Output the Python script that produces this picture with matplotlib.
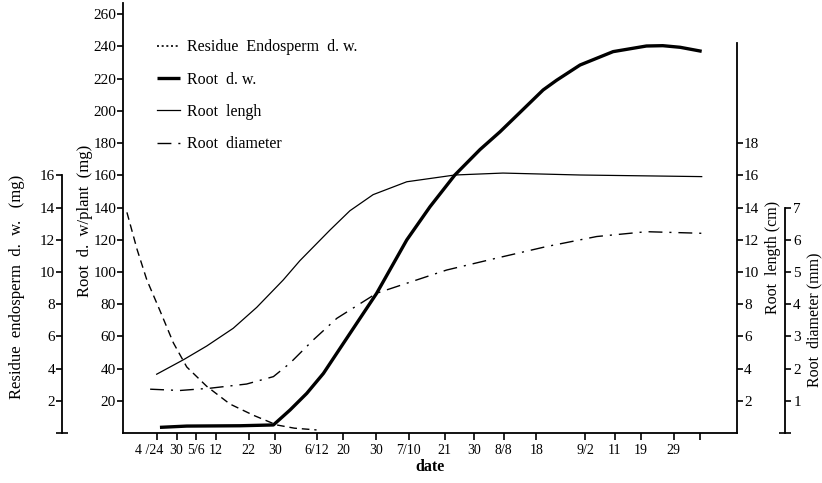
import numpy as np
import matplotlib
matplotlib.use('Agg')
import matplotlib.pyplot as plt
from matplotlib.lines import Line2D
from matplotlib.transforms import ScaledTranslation

plt.rcParams['font.family'] = ['Liberation Serif', 'DejaVu Serif']

# days after 4/24
tick_days = [0, 6, 12, 18, 28, 36, 49, 57, 67, 77, 88, 97, 106, 116, 131, 140, 148, 158, 166]
tick_labels = ['4 /24', '30', '5/6', '12', '22', '30', '6/12', '20', '30', '7/10',
               '21', '30', '8/8', '18', '9/2', '11', '19', '29', '']

# residue endosperm dry weight (mg)
endo_day = [-9.2, -6.1, -3.1, 0.9, 5.0, 9.1, 15.2, 22.3, 29.5, 36.6, 42.0, 48.8]
endo_mg = [13.7, 11.4, 9.5, 7.6, 5.6, 4.1, 2.9, 1.8, 1.1, 0.5, 0.3, 0.19]

# root dry weight per plant (mg)
rdw_day = [0.9, 9.1, 25.4, 35.6, 40.7, 45.8, 50.9, 56.0, 67.2, 76.4, 83.5, 91.1,
           98.8, 104.9, 111.0, 118.1, 122.2, 129.4, 139.5, 149.7, 154.7, 160.0, 166.6]
rdw_mg = [3.5, 4.3, 4.5, 5.0, 14.3, 24.6, 37.0, 52.6, 86.8, 119.9, 140.5, 160.2,
          176.0, 187.0, 199.0, 213.0, 219.0, 228.5, 236.8, 240.3, 240.5, 239.5, 237.0]

# root length (cm)
rl_day = [-0.1, 8.1, 15.2, 23.3, 30.5, 38.6, 43.7, 52.9, 59.0, 66.1, 76.4, 91.1, 105.8, 129.4, 166.6]
rl_cm = [3.65, 4.55, 5.4, 6.5, 7.8, 9.5, 10.7, 12.6, 13.8, 14.8, 15.6, 16.02, 16.14, 16.02, 15.92]

# root diameter (mm)
rd_day = [-2.1, 7.0, 16.2, 27.4, 35.6, 40.7, 47.8, 55.0, 67.2, 88.6, 103.9, 119.2, 134.5, 149.7, 166.6]
rd_mm = [1.36, 1.32, 1.39, 1.52, 1.75, 2.17, 2.89, 3.56, 4.34, 5.06, 5.43, 5.79, 6.10, 6.25, 6.20]

W, H = 822, 483
fig = plt.figure(figsize=(W / 100, H / 100), dpi=100)
ax = fig.add_axes([123 / W, 1 - 433 / H, 614 / W, 430 / H])

ymax = 267
ax.set_xlim(-10.4, 177.4)
ax.set_ylim(0, ymax)

for s in ['top', 'right']:
    ax.spines[s].set_visible(False)
for s in ['left', 'bottom']:
    ax.spines[s].set_linewidth(1.3)

ax.set_yticks(np.arange(20, 261, 20))
ax.set_xticks(tick_days)
ax.set_xticklabels(tick_labels)
ax.tick_params(axis='y', direction='out', length=4, width=1.2, labelsize=11, pad=1)
ax.tick_params(axis='x', direction='out', length=5, width=1.2, labelsize=10, pad=3)
# first date label sits a bit left of its tick, as in the original
first = ax.get_xticklabels()[0]
first.set_transform(first.get_transform() + ScaledTranslation(-0.08, 0, fig.dpi_scale_trans))

# endosperm axis (far left)
ax_e = ax.twinx()
ax_e.set_ylim(0, ymax / 10)
for s in ['top', 'right', 'bottom']:
    ax_e.spines[s].set_visible(False)
ax_e.spines['left'].set_visible(True)
ax_e.spines['left'].set_position(('axes', -0.0993))
ax_e.spines['left'].set_bounds(0, 16)
ax_e.spines['left'].set_linewidth(1.3)
ax_e.yaxis.set_ticks_position('left')
ax_e.set_yticks(np.arange(2, 17, 2))
ax_e.set_yticks([0], minor=True)
ax_e.tick_params(axis='y', which='major', direction='out', length=4, width=1.2, labelsize=11, pad=1)
ax_e.tick_params(axis='y', which='minor', direction='inout', length=8, width=1.2)

# root length axis (right)
ax_l = ax.twinx()
ax_l.set_ylim(0, ymax / 10)
for s in ['top', 'left', 'bottom']:
    ax_l.spines[s].set_visible(False)
ax_l.spines['right'].set_bounds(0, 24.2)
ax_l.spines['right'].set_linewidth(1.3)
ax_l.set_yticks(np.arange(2, 19, 2))
ax_l.tick_params(axis='y', direction='out', length=4, width=1.2, labelsize=11, pad=1)

# root diameter axis (far right)
ax_d = ax.twinx()
ax_d.set_ylim(0, ymax / 20)
for s in ['top', 'left', 'bottom']:
    ax_d.spines[s].set_visible(False)
ax_d.spines['right'].set_position(('axes', 1.078))
ax_d.spines['right'].set_bounds(0, 7)
ax_d.spines['right'].set_linewidth(1.3)
ax_d.set_yticks(np.arange(1, 8, 1))
ax_d.set_yticks([0, 7], minor=True)
ax_d.tick_params(axis='y', which='major', direction='out', length=4, width=1.2, labelsize=11, pad=2)
ax_d.tick_params(axis='y', which='minor', direction='inout', length=8, width=1.2)

# curves
ax_e.plot(endo_day, endo_mg, color='black', lw=1.0, ls=(0, (5.5, 3.5)))
l_dw, = ax.plot(rdw_day, rdw_mg, color='black', lw=2.4, solid_capstyle='butt')
l_len, = ax_l.plot(rl_day, rl_cm, color='black', lw=0.9)
l_dia, = ax_d.plot(rd_day, rd_mm, color='black', lw=1.0, ls=(0, (10, 5, 1.5, 5)))

h_endo = Line2D([], [], color='black', lw=1.2, ls=(0, (1.2, 1.6)))
ax_d.legend([h_endo, l_dw, l_len, l_dia],
            ['Residue  Endosperm  d. w.', 'Root  d. w.', 'Root  lengh', 'Root  diameter'],
            loc='upper left', bbox_to_anchor=(0.0554, 0.916), frameon=False,
            fontsize=11.5, handlelength=1.45, handletextpad=0.4, labelspacing=1.03,
            borderpad=0, borderaxespad=0)

# axis labels
fig.text(17 / W, 1 - 287 / H, 'Residue  endosperm  d.  w.   (mg)', rotation=90,
         ha='center', va='center', fontsize=12)
fig.text(85 / W, 1 - 221 / H, 'Root  d.  w/plant  (mg)', rotation=90,
         ha='center', va='center', fontsize=12)
fig.text(773 / W, 1 - 257 / H, 'Root  length (cm)', rotation=90,
         ha='center', va='center', fontsize=11.5)
fig.text(814 / W, 1 - 320 / H, 'Root  diameter (mm)', rotation=90,
         ha='center', va='center', fontsize=11.5)
fig.text(430 / W, 1 - 467 / H, 'date', ha='center', va='center',
         fontsize=11.5, fontweight='bold')

fig.savefig('out.png', dpi=100)
